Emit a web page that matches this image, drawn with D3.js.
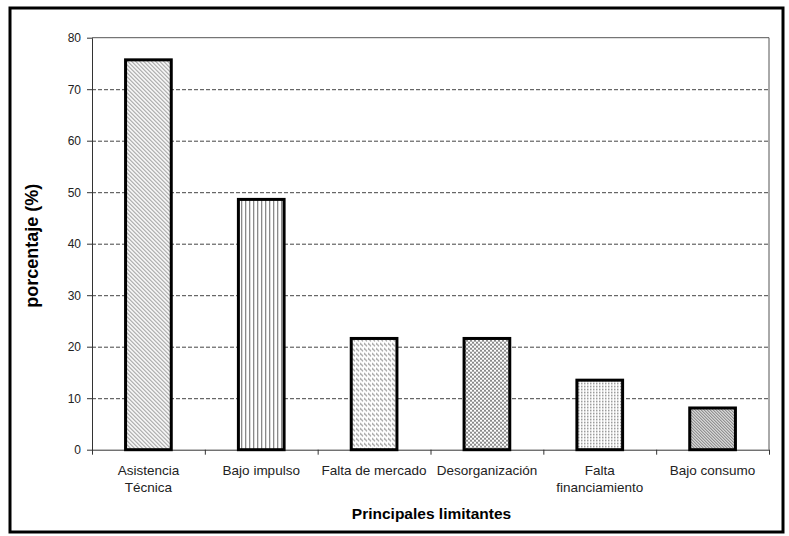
<!DOCTYPE html>
<html>
<head>
<meta charset="utf-8">
<script src="https://cdn.jsdelivr.net/npm/d3@7"></script>
<style>
  body { margin: 0; background: #fff; }
  svg { display: block; font-family: "Liberation Sans", Arial, sans-serif; }
  .axis path, .axis line { stroke: #333; }
  .axis text { fill: #222; font-size: 12px; }
  .grid line { stroke: #444; stroke-dasharray: 4,2; }
  .grid path { display: none; }
</style>
</head>
<body>
<div id="chart"></div>
<script>
// Data
var categories = ['Asistencia Técnica', 'Bajo impulso', 'Falta de mercado', 'Desorganización', 'Falta financiamiento', 'Bajo consumo'];
var labelLines = [['Asistencia', 'Técnica'], ['Bajo impulso'], ['Falta de mercado'], ['Desorganización'], ['Falta', 'financiamiento'], ['Bajo consumo']];
var values = [75.7, 48.6, 21.6, 21.6, 13.5, 8.1];
var fills = ['diag', 'vert', 'dashdiag', 'checker', 'dots', 'darkdiag'];
var yTicks = [0, 10, 20, 30, 40, 50, 60, 70, 80];

var W = 789, H = 536;
var margins = { left: 92, right: 20, top: 37.7, bottom: 86.3 };

var svg = d3.select('#chart').append('svg')
  .attr('width', W)
  .attr('height', H);

// Fill patterns
var defs = svg.append('defs');

function pattern(id, w, h) {
  var p = defs.append('pattern')
    .attr('id', id)
    .attr('patternUnits', 'userSpaceOnUse')
    .attr('width', w)
    .attr('height', h);
  p.append('rect').attr('width', w).attr('height', h).attr('fill', '#fff');
  return p;
}

var p1 = pattern('diag', 4, 4);
p1.append('path').attr('d', 'M-1,-1L5,5M-1,3L1,5M3,-1L5,1').attr('stroke', '#9a9a9a').attr('stroke-width', 1.1);

var p2 = pattern('vert', 4, 4);
p2.append('rect').attr('x', 1).attr('width', 1.3).attr('height', 4).attr('fill', '#8a8a8a');

var p3 = pattern('dashdiag', 4, 5);
p3.append('path').attr('d', 'M0,0.5L3,3.5').attr('stroke', '#9c9c9c').attr('stroke-width', 1.1);

var p4 = pattern('checker', 4, 4);
p4.append('rect').attr('width', 2).attr('height', 2).attr('fill', '#8a8a8a');
p4.append('rect').attr('x', 2).attr('y', 2).attr('width', 2).attr('height', 2).attr('fill', '#8a8a8a');

var p5 = pattern('dots', 3, 3);
p5.append('rect').attr('width', 1.5).attr('height', 1.5).attr('fill', '#8c8c8c');

var p6 = pattern('darkdiag', 3, 3);
p6.append('path').attr('d', 'M-1,-1L4,4M-1,2L1,4M2,-1L4,1').attr('stroke', '#707070').attr('stroke-width', 1.1);

// Outer frame
svg.append('rect')
  .attr('x', 10).attr('y', 8)
  .attr('width', 773).attr('height', 524)
  .attr('fill', 'none')
  .attr('stroke', '#000')
  .attr('stroke-width', 3);

var chartWidth = W - margins.left - margins.right;
var chartHeight = H - margins.top - margins.bottom;

var chart = svg.append('g')
  .attr('transform', `translate(${margins.left},${margins.top})`);

var xScale = d3.scaleBand()
  .domain(categories)
  .range([0, chartWidth])
  .paddingInner(0.595)
  .paddingOuter(0.2975);

var yScale = d3.scaleLinear()
  .domain([0, 80])
  .range([chartHeight, 0]);

// Grid
chart.append('g')
  .attr('class', 'grid')
  .call(d3.axisLeft(yScale)
    .tickValues(yTicks.filter(d => d > 0 && d < 80))
    .tickSize(-chartWidth)
    .tickFormat(''));

// Plot frame (top and right)
chart.append('path')
  .attr('d', `M0,0H${chartWidth}V${chartHeight}`)
  .attr('fill', 'none')
  .attr('stroke', '#555')
  .attr('stroke-width', 1);

// Y axis
chart.append('g')
  .attr('class', 'y axis')
  .call(d3.axisLeft(yScale).tickValues(yTicks).tickSize(5).tickPadding(6).tickSizeOuter(0));

// X axis with ticks on category boundaries
var boundary = d3.scaleLinear().domain([0, categories.length]).range([0, chartWidth]);
chart.append('g')
  .attr('class', 'x axis')
  .attr('transform', `translate(0,${chartHeight})`)
  .call(d3.axisBottom(boundary).tickValues(d3.range(categories.length + 1)).tickSize(5).tickSizeOuter(0).tickFormat(''));

// Bars
chart.append('g')
  .selectAll('rect')
  .data(values)
  .enter()
  .append('rect')
  .attr('x', (d, i) => xScale(categories[i]))
  .attr('y', d => yScale(d))
  .attr('width', xScale.bandwidth())
  .attr('height', d => chartHeight - yScale(d))
  .attr('fill', (d, i) => `url(#${fills[i]})`)
  .attr('stroke', '#000')
  .attr('stroke-width', 3);

// Category labels
var labels = chart.append('g')
  .selectAll('text')
  .data(labelLines)
  .enter()
  .append('text')
  .attr('text-anchor', 'middle')
  .attr('font-size', 13.5)
  .attr('fill', '#222')
  .attr('transform', (d, i) => `translate(${xScale(categories[i]) + xScale.bandwidth() / 2},${chartHeight + 25})`);

labels.selectAll('tspan')
  .data(d => d)
  .enter()
  .append('tspan')
  .attr('x', 0)
  .attr('y', (d, i) => i * 17)
  .text(d => d);

// Axis titles
chart.append('text')
  .attr('x', chartWidth / 2 + 1)
  .attr('y', chartHeight + 69)
  .attr('text-anchor', 'middle')
  .attr('font-size', 15.5)
  .attr('font-weight', 'bold')
  .text('Principales limitantes');

chart.append('text')
  .attr('transform', `translate(${38 - margins.left},${chartHeight / 2 + 2}) rotate(-90)`)
  .attr('text-anchor', 'middle')
  .attr('font-size', 18)
  .attr('font-weight', 'bold')
  .text('porcentaje (%)');
</script>
</body>
</html>
